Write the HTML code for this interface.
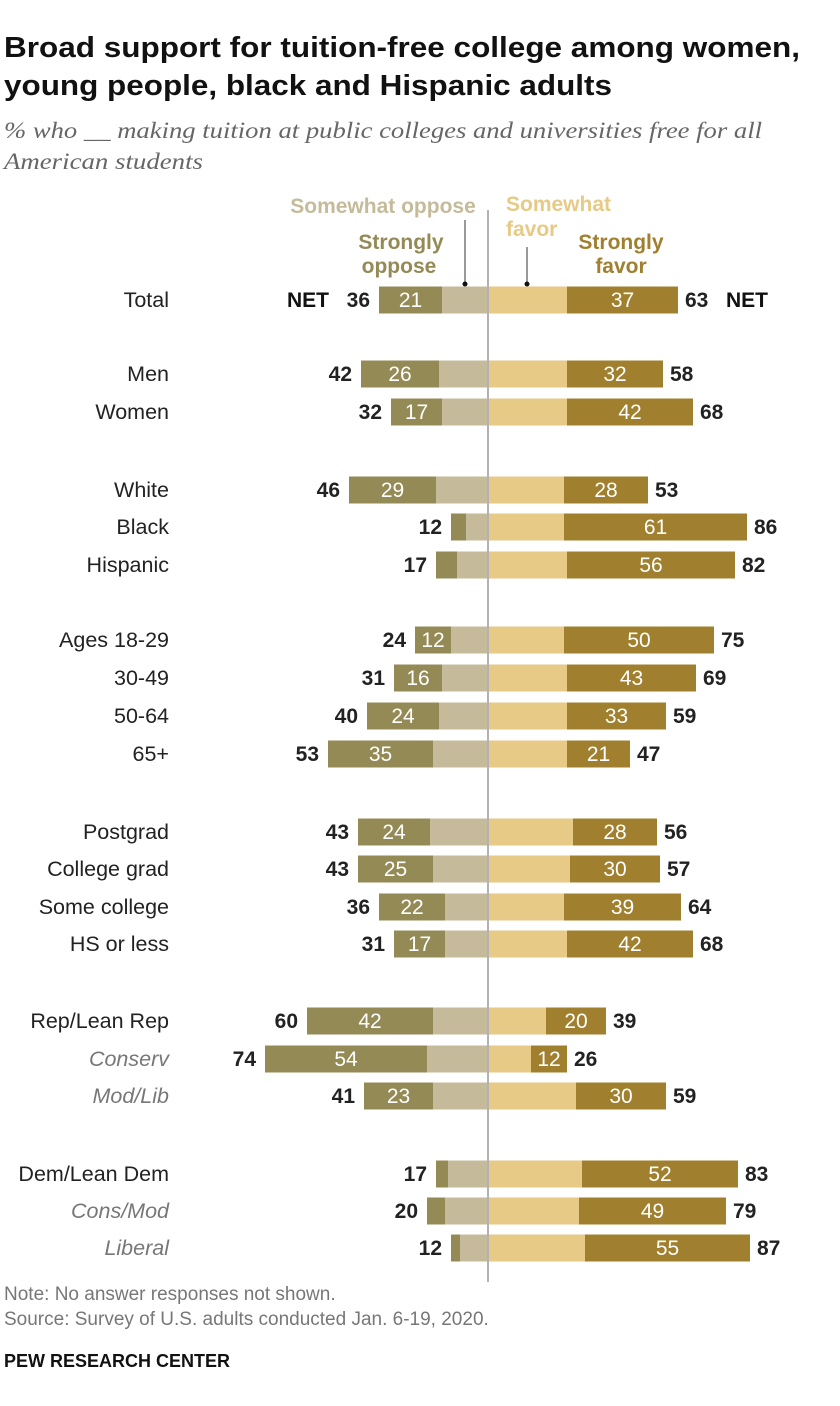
<!DOCTYPE html>
<html><head><meta charset="utf-8"><style>
body{margin:0;background:#fff;width:840px;height:1406px;overflow:hidden;font-family:"Liberation Sans",sans-serif}
.n{position:absolute;left:4px;font-size:19px;color:#777}
</style></head><body>
<svg id="c" width="840" height="1290" style="position:absolute;left:0;top:0">
<text x="4" y="57" textLength="796" lengthAdjust="spacingAndGlyphs" style="font-family:'Liberation Sans',sans-serif;font-weight:bold;font-size:29px" fill="#111">Broad support for tuition-free college among women,</text>
<text x="4" y="95" textLength="608" lengthAdjust="spacingAndGlyphs" style="font-family:'Liberation Sans',sans-serif;font-weight:bold;font-size:29px" fill="#111">young people, black and Hispanic adults</text>
<text x="4" y="138" textLength="758" lengthAdjust="spacingAndGlyphs" style="font-family:'Liberation Serif',serif;font-style:italic;font-size:23px" fill="#666">% who __ making tuition at public colleges and universities free for all</text>
<text x="4" y="169" textLength="199" lengthAdjust="spacingAndGlyphs" style="font-family:'Liberation Serif',serif;font-style:italic;font-size:23px" fill="#666">American students</text>
</svg>
<div class="n" style="top:1284px">Note: No answer responses not shown.</div>
<div class="n" style="top:1309px">Source: Survey of U.S. adults conducted Jan. 6-19, 2020.</div>
<div class="n" style="top:1351px;font-weight:bold;color:#111;font-size:18px">PEW RESEARCH CENTER</div>
<script>
const categories=["Total","Men","Women","White","Black","Hispanic","Ages 18-29","30-49","50-64","65+","Postgrad","College grad","Some college","HS or less","Rep/Lean Rep","Conserv","Mod/Lib","Dem/Lean Dem","Cons/Mod","Liberal"];
const netOppose=[36,42,32,46,12,17,24,31,40,53,43,43,36,31,60,74,41,17,20,12];
const stronglyOppose=[21,26,17,29,5,7,12,16,24,35,24,25,22,17,42,54,23,4,6,3];
const netFavor=[63,58,68,53,86,82,75,69,59,47,56,57,64,68,39,26,59,83,79,87];
const stronglyFavor=[37,32,42,28,61,56,50,43,33,21,28,30,39,42,20,12,30,52,49,55];
const showOpposeLabel=[1,1,1,1,0,0,1,1,1,1,1,1,1,1,1,1,1,0,0,0];
const rowY=[299,373,411,489,526,564,639,677,715,753,831,868,906,943,1020,1058,1095,1173,1210,1247];
const italicRows=[15,16,18,19];
const svg=document.getElementById('c');const NS='http://www.w3.org/2000/svg';
const cx=488,k=3.0,bh=27;
const xo=v=>cx-1-v*k, xf=v=>cx+1+v*k;
function mk(t,a,txt){const e=document.createElementNS(NS,t);for(const q in a)e.setAttribute(q,a[q]);if(txt!==undefined)e.textContent=txt;svg.appendChild(e);return e;}
let ln=mk('line',{x1:cx,x2:cx,y1:210,y2:1282,stroke:'#666','stroke-width':1});


const F='font-family:"Liberation Sans",sans-serif;font-weight:bold;font-size:21px';
function hdr(x,y,txt,col,name,anc){const e=mk('text',{x:x,y:y,'text-anchor':anc||'middle',fill:col,style:F},txt);}
hdr(383,213,'Somewhat oppose','#c5bb9b','legend-somewhat-oppose');
hdr(401,249,'Strongly','#948a55','legend-strongly-oppose');hdr(399,273,'oppose','#948a55','legend-strongly-oppose-2');
hdr(506,211,'Somewhat','#e6ca85','legend-somewhat-favor','start');hdr(506,236,'favor','#e6ca85','legend-somewhat-favor-2','start');
hdr(621,249,'Strongly','#a0802e','legend-strongly-favor');hdr(621,273,'favor','#a0802e','legend-strongly-favor-2');
mk('line',{x1:465,x2:465,y1:220,y2:284,stroke:'#333'});mk('circle',{cx:465,cy:284,r:2.5,fill:'#111'});
mk('line',{x1:527,x2:527,y1:247,y2:284,stroke:'#333'});mk('circle',{cx:527,cy:284,r:2.5,fill:'#111'});
categories.forEach((c,i)=>{
 const y=rowY[i],top=y-bh/2+1;const it=italicRows.includes(i);
 const l=mk('text',{x:169,y:y+8,'text-anchor':'end',fill:it?'#777':'#222',style:'font-family:"Liberation Sans",sans-serif;font-size:21.5px;'+(it?'font-style:italic':'')},c);
 
 let r=mk('rect',{x:xo(netOppose[i]-stronglyOppose[i]),y:top,width:(netOppose[i]-stronglyOppose[i])*k,height:bh,fill:'#c5bb9b'});
 
 r=mk('rect',{x:xo(netOppose[i]),y:top,width:stronglyOppose[i]*k,height:bh,fill:'#948a55'});
 
 r=mk('rect',{x:cx+1,y:top,width:(netFavor[i]-stronglyFavor[i])*k,height:bh,fill:'#e6ca85'});
 
 r=mk('rect',{x:xf(netFavor[i]-stronglyFavor[i]),y:top,width:stronglyFavor[i]*k,height:bh,fill:'#a0802e'});
 
 const W='font-family:"Liberation Sans",sans-serif;font-size:21px';
 if(showOpposeLabel[i]){const t=mk('text',{x:xo(netOppose[i])+stronglyOppose[i]*k/2,y:y+8,'text-anchor':'middle',fill:'#fff',style:W},stronglyOppose[i]);}
 let t=mk('text',{x:xf(netFavor[i]-stronglyFavor[i])+stronglyFavor[i]*k/2,y:y+8,'text-anchor':'middle',fill:'#fff',style:W},stronglyFavor[i]);
 
 t=mk('text',{x:xo(netOppose[i])-9,y:y+8,'text-anchor':'end',fill:'#222',style:F},netOppose[i]);
 
 t=mk('text',{x:xf(netFavor[i])+7,y:y+8,fill:'#222',style:F},netFavor[i]);
 
 if(i==0){
  t=mk('text',{x:xo(netOppose[i])-50,y:y+8,'text-anchor':'end',fill:'#111',style:F},'NET');
  
  t=mk('text',{x:xf(netFavor[i])+48,y:y+8,fill:'#111',style:F},'NET');
  
 }
});
</script>
</body></html>
